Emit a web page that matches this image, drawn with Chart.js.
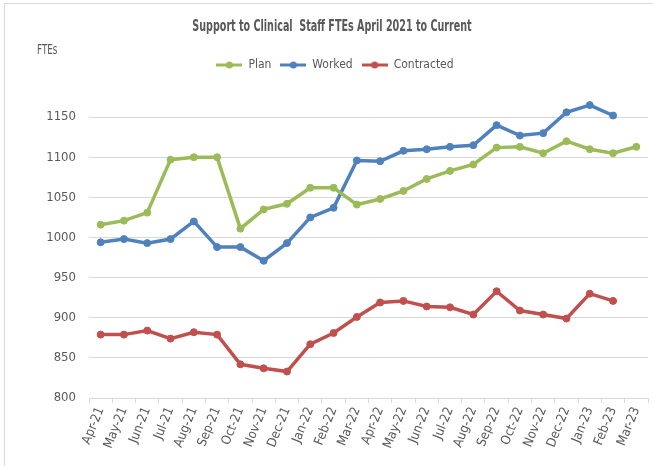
<!DOCTYPE html>
<html>
<head>
<meta charset="utf-8">
<script src="https://cdn.jsdelivr.net/npm/chart.js@4.4.1/dist/chart.umd.min.js"></script>
<style>
  html, body { margin: 0; padding: 0; background: #fff; }
  #wrap { position: relative; width: 653px; height: 466px; }
  #frame { position: absolute; left: 4px; top: 3px; width: 700px; height: 500px;
           border-left: 1px solid #d9d9d9; border-top: 1px solid #d9d9d9; pointer-events: none; }
</style>
</head>
<body>
<div id="wrap">
  <canvas id="fteChart" width="653" height="466"></canvas>
  <div id="frame"></div>
</div>
<script>
// — Months (x axis categories) —
const months = [
  'Apr-21', 'May-21', 'Jun-21', 'Jul-21', 'Aug-21', 'Sep-21', 'Oct-21', 'Nov-21',
  'Dec-21', 'Jan-22', 'Feb-22', 'Mar-22', 'Apr-22', 'May-22', 'Jun-22', 'Jul-22',
  'Aug-22', 'Sep-22', 'Oct-22', 'Nov-22', 'Dec-22', 'Jan-23', 'Feb-23', 'Mar-23'
];

// — FTE series —
const plan = [
  1016, 1021, 1031, 1097, 1100, 1100, 1011, 1035, 1042, 1062, 1062, 1041,
  1048, 1058, 1073, 1083, 1091, 1112, 1113, 1105, 1120, 1110, 1105, 1113
];
const worked = [
  994, 998, 993, 998, 1020, 988, 988, 971, 993, 1025, 1037, 1096,
  1095, 1108, 1110, 1113, 1115, 1140, 1127, 1130, 1156, 1165, 1152, null
];
const contracted = [
  879, 879, 884, 874, 882, 879, 842, 837, 833, 867, 881, 901,
  919, 921, 914, 913, 904, 933, 909, 904, 899, 930, 921, null
];

// — Y axis ticks —
const yTicks = [800, 850, 900, 950, 1000, 1050, 1100, 1150];

const chartTitle = 'Support to Clinical  Staff FTEs April 2021 to Current';
const yCaption = 'FTEs';

const colors = { plan: '#9bbb59', worked: '#4f81bd', contracted: '#c0504d' };
const textFont = '"DejaVu Sans Condensed", "DejaVu Sans", sans-serif';
const textColor = '#595959';

// — Legend icons: short line with a dot in the middle —
function legendIcon(color) {
  const c = document.createElement('canvas');
  c.width = 26; c.height = 10;
  const g = c.getContext('2d');
  g.strokeStyle = color;
  g.lineWidth = 3;
  g.beginPath(); g.moveTo(0, 5); g.lineTo(26, 5); g.stroke();
  g.fillStyle = color;
  g.beginPath(); g.arc(13, 5, 3.5, 0, Math.PI * 2); g.fill();
  return c;
}
const icons = [legendIcon(colors.plan), legendIcon(colors.worked), legendIcon(colors.contracted)];

function series(label, data, color) {
  return {
    label, data,
    borderColor: color, backgroundColor: color,
    borderWidth: 3.5, pointRadius: 3.5, pointBorderWidth: 1,
    pointBackgroundColor: color, pointBorderColor: color,
    tension: 0, spanGaps: false
  };
}

// — Narrow title and "FTEs" caption (text squeezed horizontally) —
function narrowText(ctx, text, x, y, font, squeeze, align) {
  ctx.save();
  ctx.translate(x, y);
  ctx.scale(squeeze, 1);
  ctx.font = font;
  ctx.fillStyle = textColor;
  ctx.textAlign = align;
  ctx.textBaseline = 'middle';
  ctx.fillText(text, 0, 0);
  ctx.restore();
}

const headings = {
  id: 'headings',
  afterDraw(chart) {
    const ctx = chart.ctx;
    narrowText(ctx, chartTitle, 332, 27, 'bold 15px ' + textFont, 0.71, 'center');
    narrowText(ctx, yCaption, 37, 50, '14px ' + textFont, 0.7, 'left');
  }
};

new Chart(document.getElementById('fteChart'), {
  type: 'line',
  data: {
    labels: months,
    datasets: [
      series('Plan', plan, colors.plan),
      series('Worked', worked, colors.worked),
      series('Contracted', contracted, colors.contracted)
    ]
  },
  options: {
    responsive: false,
    animation: false,
    layout: { padding: { left: 22, right: 5, top: 50, bottom: 0 } },
    plugins: {
      title: { display: false },
      legend: {
        position: 'top',
        labels: {
          usePointStyle: true,
          pointStyleWidth: 26,
          padding: 9,
          color: textColor,
          font: { family: textFont, size: 12 },
          generateLabels(chart) {
            return Chart.defaults.plugins.legend.labels.generateLabels(chart)
              .map((l, i) => ({ ...l, pointStyle: icons[i] }));
          }
        }
      },
      tooltip: { enabled: false }
    },
    scales: {
      x: {
        offset: true,
        grid: { offset: true, drawOnChartArea: false, drawTicks: true, tickLength: 5, color: '#d9d9d9' },
        border: { color: '#d9d9d9' },
        ticks: {
          autoSkip: false, maxRotation: 68, minRotation: 68,
          color: textColor, font: { family: textFont, size: 13 }, padding: 2
        },
        afterFit(s) { s.height = 68; }
      },
      y: {
        min: 800, max: 1195,
        grid: { color: '#d9d9d9', drawTicks: false },
        border: { display: false },
        ticks: {
          stepSize: 50, color: textColor, font: { family: textFont, size: 13 }, padding: 13,
          callback: v => String(v)
        },
        afterBuildTicks(s) { s.ticks = yTicks.map(v => ({ value: v })); },
        afterFit(s) { s.width = 67; }
      }
    }
  },
  plugins: [headings]
});
</script>
</body>
</html>
